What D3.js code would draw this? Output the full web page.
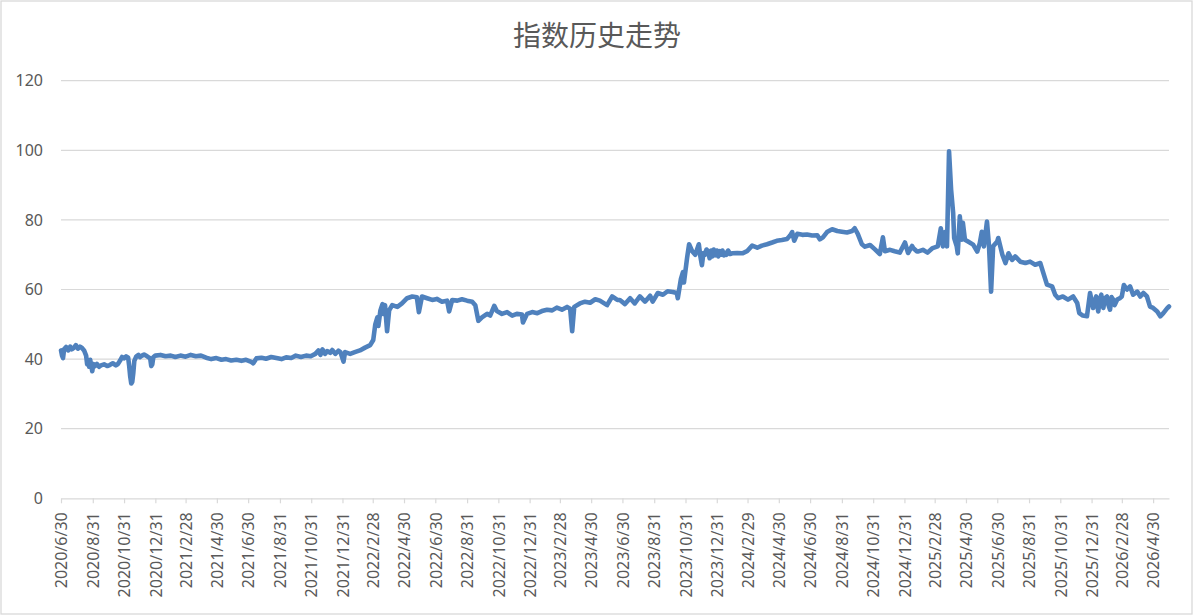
<!DOCTYPE html>
<html>
<head>
<meta charset="utf-8">
<script src="https://cdn.jsdelivr.net/npm/d3@7/dist/d3.min.js"></script>
<style>
  html, body { margin: 0; padding: 0; background: #fff; }
  svg { display: block; }
</style>
</head>
<body>
<svg id="chart" width="1194" height="616"></svg>
<script>
const title = "指数历史走势";

const yTicks = [0, 20, 40, 60, 80, 100, 120];

const tickLabels = [
  "2020/6/30","2020/8/31","2020/10/31","2020/12/31","2021/2/28","2021/4/30","2021/6/30",
  "2021/8/31","2021/10/31","2021/12/31","2022/2/28","2022/4/30","2022/6/30","2022/8/31",
  "2022/10/31","2022/12/31","2023/2/28","2023/4/30","2023/6/30","2023/8/31","2023/10/31",
  "2023/12/31","2024/2/29","2024/4/30","2024/6/30","2024/8/31","2024/10/31","2024/12/31",
  "2025/2/28","2025/4/30","2025/6/30","2025/8/31","2025/10/31","2025/12/31","2026/2/28",
  "2026/4/30"
];

const dates = [
  "2020-06-30","2020-07-02","2020-07-04","2020-07-06","2020-07-10","2020-07-14","2020-07-18","2020-07-21",
  "2020-07-25","2020-07-29","2020-08-02","2020-08-06","2020-08-10","2020-08-14","2020-08-18","2020-08-20",
  "2020-08-22","2020-08-24","2020-08-26","2020-08-28","2020-08-30","2020-09-01","2020-09-04","2020-09-08",
  "2020-09-12","2020-09-16","2020-09-22","2020-09-28","2020-10-03","2020-10-09","2020-10-15","2020-10-19",
  "2020-10-23","2020-10-27","2020-10-31","2020-11-04","2020-11-08","2020-11-10","2020-11-12","2020-11-14",
  "2020-11-16","2020-11-18","2020-11-20","2020-11-24","2020-11-28","2020-12-01","2020-12-05","2020-12-09",
  "2020-12-15","2020-12-21","2020-12-23","2020-12-25","2020-12-27","2020-12-31",
  "2021-01-10","2021-01-20","2021-01-30","2021-02-08","2021-02-18","2021-02-28","2021-03-10","2021-03-20",
  "2021-03-30","2021-04-09","2021-04-19","2021-04-29","2021-05-09","2021-05-18","2021-05-28","2021-06-07",
  "2021-06-17","2021-06-26","2021-07-06","2021-07-10","2021-07-16","2021-07-26","2021-08-04","2021-08-14",
  "2021-08-24","2021-09-03","2021-09-12","2021-09-22","2021-10-01","2021-10-11","2021-10-21","2021-10-30",
  "2021-11-08","2021-11-14","2021-11-18","2021-11-22","2021-11-27","2021-12-01","2021-12-07","2021-12-11",
  "2021-12-17","2021-12-23","2021-12-27","2022-01-02",
  "2022-01-05","2022-01-15","2022-01-24","2022-02-03","2022-02-13","2022-02-23","2022-03-01","2022-03-05",
  "2022-03-09","2022-03-11","2022-03-15","2022-03-19","2022-03-20","2022-03-24","2022-03-28","2022-04-01",
  "2022-04-07","2022-04-17","2022-04-26","2022-05-06","2022-05-16","2022-05-25","2022-05-29","2022-06-04",
  "2022-06-14","2022-06-24","2022-07-03","2022-07-13","2022-07-23","2022-07-27","2022-08-02","2022-08-12",
  "2022-08-21","2022-08-31","2022-09-10","2022-09-16","2022-09-22","2022-09-29","2022-10-09","2022-10-15",
  "2022-10-23","2022-10-28","2022-11-07","2022-11-17","2022-11-27","2022-12-06","2022-12-16","2022-12-18",
  "2022-12-26",
  "2023-01-05","2023-01-15","2023-01-24","2023-02-03","2023-02-13","2023-02-22","2023-03-04","2023-03-14",
  "2023-03-20","2023-03-24","2023-03-28","2023-04-08","2023-04-18","2023-04-28","2023-05-08","2023-05-17",
  "2023-05-31","2023-06-10","2023-06-20","2023-06-25","2023-07-05","2023-07-15","2023-07-24","2023-08-03",
  "2023-08-13","2023-08-23","2023-08-28","2023-09-07","2023-09-17","2023-09-26","2023-10-06","2023-10-14",
  "2023-10-16","2023-10-22","2023-10-26","2023-10-28","2023-11-03","2023-11-07","2023-11-13","2023-11-19",
  "2023-11-26","2023-11-29","2023-12-02","2023-12-05","2023-12-08","2023-12-11","2023-12-14","2023-12-17",
  "2023-12-20","2023-12-22","2023-12-25","2023-12-28","2023-12-31",
  "2024-01-03","2024-01-06","2024-01-09","2024-01-11","2024-01-14","2024-01-16","2024-01-19","2024-01-22",
  "2024-01-26","2024-01-30","2024-02-09","2024-02-19","2024-02-28",
  "2024-03-09","2024-03-19","2024-03-28","2024-04-07","2024-04-17","2024-04-26","2024-05-06","2024-05-16",
  "2024-05-22","2024-05-26","2024-05-30","2024-06-05","2024-06-15","2024-06-24","2024-07-04","2024-07-14",
  "2024-07-19","2024-07-25","2024-08-02","2024-08-12","2024-08-22","2024-08-31","2024-09-10","2024-09-20",
  "2024-09-25","2024-10-01","2024-10-09","2024-10-15","2024-10-25","2024-11-03","2024-11-13","2024-11-19",
  "2024-11-23","2024-12-03","2024-12-12","2024-12-22",
  "2025-01-01","2025-01-07","2025-01-15","2025-01-17","2025-01-24","2025-01-26","2025-02-05","2025-02-14",
  "2025-02-24","2025-03-06","2025-03-12","2025-03-16","2025-03-20","2025-03-24","2025-03-28","2025-04-01",
  "2025-04-05","2025-04-07","2025-04-12","2025-04-14","2025-04-18","2025-04-22","2025-04-24","2025-04-28",
  "2025-05-04","2025-05-14","2025-05-22","2025-05-27","2025-05-31","2025-06-04","2025-06-10","2025-06-14",
  "2025-06-18","2025-06-22","2025-06-30","2025-07-02","2025-07-10","2025-07-16","2025-07-22","2025-07-29",
  "2025-08-04","2025-08-14","2025-08-24","2025-09-02","2025-09-12","2025-09-22","2025-09-28","2025-10-05",
  "2025-10-15","2025-10-21","2025-10-27","2025-11-05","2025-11-15","2025-11-25","2025-12-03","2025-12-07",
  "2025-12-14","2025-12-22","2025-12-28",
  "2026-01-03","2026-01-06","2026-01-09","2026-01-11","2026-01-13","2026-01-16","2026-01-19","2026-01-21",
  "2026-01-23","2026-01-26","2026-01-30","2026-02-02","2026-02-05","2026-02-08","2026-02-11","2026-02-14",
  "2026-02-19","2026-02-24","2026-02-28","2026-03-04","2026-03-10","2026-03-16","2026-03-22","2026-03-30",
  "2026-04-05","2026-04-11","2026-04-18","2026-04-24","2026-04-30","2026-05-08","2026-05-14","2026-05-20",
  "2026-05-28","2026-05-31"
];

const values = [
  42.5,41.0,40.3,42.8,43.5,42.5,43.6,42.8,
  43.2,44.0,43.0,43.6,43.2,42.5,41.0,38.5,
  39.5,37.8,39.8,38.0,36.5,38.6,38.0,38.6,
  37.8,38.2,38.5,38.0,38.3,38.8,38.2,38.6,
  39.5,40.6,40.2,40.8,40.4,38.0,35.0,33.0,
  33.5,36.0,39.5,40.8,41.2,40.6,41.0,41.3,
  40.8,40.2,38.0,38.5,40.5,41.0,
  41.2,40.8,41.0,40.6,41.0,40.7,41.2,40.8,
  41.0,40.4,40.0,40.3,39.8,40.0,39.6,39.8,
  39.5,39.8,39.2,38.8,40.2,40.4,40.1,40.6,
  40.3,40.0,40.5,40.3,41.0,40.6,41.0,40.8,
  41.5,42.5,41.2,42.8,41.5,42.3,41.8,42.6,
  41.5,42.4,42.0,39.3,
  42.0,41.5,42.0,42.5,43.3,44.0,45.5,50.0,
  52.0,49.5,54.0,55.8,53.0,55.5,48.0,54.0,
  55.5,55.0,56.0,57.5,58.0,57.8,53.5,58.0,
  57.5,57.0,57.3,56.5,56.8,53.7,57.0,56.8,
  57.2,56.8,56.5,55.5,51.0,52.0,53.0,52.5,
  55.3,53.8,53.0,53.5,52.5,53.0,52.8,50.5,
  53.0,
  53.5,53.2,53.8,54.2,54.0,54.8,54.2,55.0,
  54.5,48.0,55.0,56.0,56.5,56.2,57.2,56.8,
  55.5,58.0,57.0,57.0,55.8,57.5,56.0,58.0,
  56.5,58.2,56.5,59.0,58.5,59.5,59.3,59.0,
  57.5,63.0,65.0,62.0,69.0,73.0,71.0,70.0,
  73.0,69.5,67.0,70.5,70.0,71.5,71.0,69.0,
  71.2,69.5,71.5,69.8,71.2,
  69.5,71.0,70.0,71.2,69.8,70.6,70.0,71.2,
  70.2,70.4,70.5,70.4,71.0,
  72.6,72.0,72.6,73.0,73.5,74.0,74.2,74.5,
  75.5,76.5,74.0,76.0,75.7,75.8,75.5,75.6,
  74.4,75.0,76.5,77.3,76.8,76.6,76.4,76.8,
  77.6,76.0,73.0,72.3,72.8,71.6,70.2,75.0,
  71.0,71.4,71.0,70.6,
  73.5,70.5,72.5,71.9,71.0,70.9,71.4,70.6,
  71.9,72.4,77.6,72.4,76.5,72.4,99.7,88.7,
  82.0,74.8,72.4,70.4,81.0,74.3,79.2,74.3,
  73.8,72.9,70.9,73.3,76.6,72.4,79.5,72.4,
  59.4,72.4,73.8,74.8,70.0,67.6,70.4,68.5,
  69.5,68.0,67.6,68.0,67.1,67.6,64.7,61.4,
  60.9,58.5,57.5,58.0,57.1,58.0,56.1,53.2,
  52.5,52.3,59.0,
  54.7,56.5,58.0,55.5,53.7,57.0,58.5,56.0,
  54.7,57.5,58.0,55.5,54.2,57.8,57.1,55.5,
  57.1,57.5,58.0,61.3,60.0,60.9,58.5,59.4,
  58.0,59.0,58.0,55.1,54.7,53.7,52.3,53.2,
  54.7,55.1
];

const domainStart = "2020-06-30";
const domainEnd = "2026-05-31";

if (dates.length !== values.length) console.error("length mismatch", dates.length, values.length);

const svg = d3.select("#chart");
const W = 1194, H = 616;
const plot = { left: 61, right: 1169, top: 80.7, bottom: 498.3 };

const parseDate = d3.timeParse("%Y-%m-%d");
const parseTick = d3.timeParse("%Y/%m/%d");
const fmtTick = d3.timeFormat("%Y/%-m/%-d");

const n = Math.min(dates.length, values.length);
const data = dates.slice(0, n).map((d, i) => ({ date: parseDate(d), value: values[i] }));
const tickDates = tickLabels.map(parseTick);

const x = d3.scaleTime()
  .domain([parseDate(domainStart), parseDate(domainEnd)])
  .range([plot.left, plot.right]);
const y = d3.scaleLinear().domain([0, 120]).range([plot.bottom, plot.top]);

// outer border
svg.append("rect")
  .attr("x", 1).attr("y", 1).attr("width", W - 3).attr("height", H - 3)
  .attr("fill", "#fff").attr("stroke", "#d9d9d9").attr("stroke-width", 1.3);

// title
svg.append("text")
  .attr("x", 597).attr("y", 46)
  .attr("text-anchor", "middle")
  .attr("font-family", "'Noto Sans CJK SC', sans-serif")
  .attr("font-size", 28)
  .attr("fill", "#595959")
  .text(title);

// gridlines
svg.append("g")
  .selectAll("line")
  .data(yTicks.filter(t => t > 0))
  .join("line")
  .attr("x1", plot.left).attr("x2", plot.right)
  .attr("y1", d => y(d)).attr("y2", d => y(d))
  .attr("stroke", "#d9d9d9").attr("stroke-width", 1.2);

// y labels
svg.append("g")
  .selectAll("text")
  .data(yTicks)
  .join("text")
  .attr("x", 43).attr("y", d => y(d))
  .attr("dy", "0.36em")
  .attr("text-anchor", "end")
  .attr("font-family", "'Noto Sans', sans-serif")
  .attr("font-size", 16)
  .attr("fill", "#595959")
  .text(d => d);

// x axis
const xAxis = d3.axisBottom(x)
  .tickValues(tickDates)
  .tickFormat(fmtTick)
  .tickSize(5)
  .tickSizeOuter(0);

const gx = svg.append("g")
  .attr("transform", `translate(0,${plot.bottom})`)
  .call(xAxis);
gx.select(".domain").attr("stroke", "#d9d9d9").attr("stroke-width", 1.2);
gx.selectAll(".tick line").attr("stroke", "#d9d9d9").attr("stroke-width", 1.2);
gx.selectAll(".tick text")
  .attr("font-family", "'Noto Sans', sans-serif")
  .attr("font-size", 16)
  .attr("fill", "#595959")
  .attr("text-anchor", "end")
  .attr("transform", "rotate(-90)")
  .attr("x", -14)
  .attr("y", 0)
  .attr("dy", "0.36em");

// line
const line = d3.line()
  .x(d => x(d.date))
  .y(d => y(d.value));

svg.append("path")
  .datum(data)
  .attr("d", line)
  .attr("fill", "none")
  .attr("stroke", "#4f81bd")
  .attr("stroke-width", 4.6)
  .attr("stroke-linejoin", "round")
  .attr("stroke-linecap", "round");
</script>
</body>
</html>
